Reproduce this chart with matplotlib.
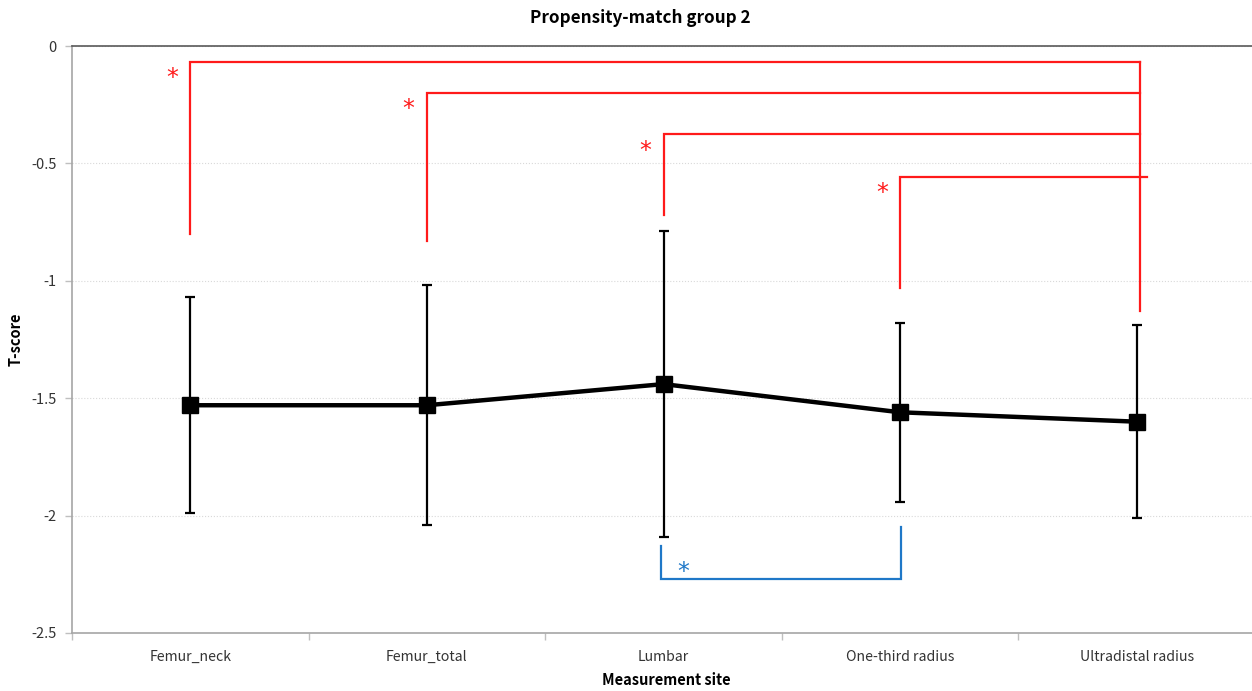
import matplotlib
matplotlib.use("Agg")
import matplotlib.pyplot as plt
import numpy as np

plt.rcParams['font.family'] = ['Noto Sans CJK KR', 'DejaVu Sans']

categories = ["Femur_neck", "Femur_total", "Lumbar", "One-third radius", "Ultradistal radius"]
means = [-1.53, -1.53, -1.44, -1.56, -1.60]
upper = [-1.07, -1.02, -0.79, -1.18, -1.19]
lower = [-1.99, -2.04, -2.09, -1.94, -2.01]

# significance brackets vs Ultradistal radius (index 4)
red_left_idx = [0, 1, 2, 3]
red_levels = [-0.068, -0.20, -0.375, -0.558]
red_left_bottoms = [-0.80, -0.83, -0.72, -1.03]
red_right_bottom = -1.13
# blue bracket Lumbar vs One-third radius
blue_pair = [2, 3]
blue_level = -2.27
blue_bottoms = [-2.13, -2.05]

RED = "#FF1A1A"
BLUE = "#1F78C8"

fig = plt.figure(figsize=(12.52, 6.91), dpi=100)
ax = fig.add_axes([72/1252, 1-633/691, 1183/1252, 587/691])

x = np.arange(len(categories))
m = np.array(means)
yerr = np.vstack([m - np.array(lower), np.array(upper) - m])

ax.errorbar(x, m, yerr=yerr, fmt='none', ecolor='black', elinewidth=1.6,
            capsize=3.5, capthick=1.6, zorder=3)
ax.plot(x, m, color='black', lw=3.2, marker='s', markersize=11, zorder=4)

# red brackets
right_x = x[4] + 0.013
for i, lvl, bot in zip(red_left_idx, red_levels, red_left_bottoms):
    xr = right_x + (0.03 if i == 3 else 0.0)
    ax.plot([x[i], x[i], xr], [bot, lvl, lvl], color=RED, lw=1.6, zorder=2,
            solid_joinstyle='miter')
    ax.text(x[i] - 0.077, lvl - 0.10, "*", color=RED, fontsize=17,
            family='DejaVu Sans', ha='center', va='baseline', zorder=5)
ax.plot([right_x, right_x], [red_levels[0], red_right_bottom], color=RED, lw=1.6, zorder=2)

# blue bracket
xa, xb = x[blue_pair[0]] - 0.01, x[blue_pair[1]] + 0.005
ax.plot([xa, xa, xb, xb], [blue_bottoms[0], blue_level, blue_level, blue_bottoms[1]],
        color=BLUE, lw=1.6, zorder=2, solid_joinstyle='miter')
ax.text(x[blue_pair[0]] + 0.083, blue_level + 0.0, "*", color=BLUE, fontsize=17,
        family='DejaVu Sans', ha='center', va='baseline', zorder=5)

ax.set_xlim(-0.5, 4.5)
ax.set_ylim(-2.5, 0)
ax.set_yticks([0, -0.5, -1, -1.5, -2, -2.5])
ax.set_yticklabels(["0", "-0.5", "-1", "-1.5", "-2", "-2.5"])
ax.set_xticks(x)
ax.set_xticklabels(categories)
ax.set_xticks(np.arange(-0.5, 4.6, 1), minor=True)
ax.tick_params(axis='x', which='major', length=0, pad=12, labelsize=10.2, colors='#333333')
ax.tick_params(axis='x', which='minor', length=5, color='#BFBFBF', width=1)
ax.tick_params(axis='y', length=5, color='#BFBFBF', width=1, labelsize=10.5,
               colors='#333333', pad=6)

ax.yaxis.grid(True, color='#D9D9D9', linestyle=':', lw=0.8)
ax.set_axisbelow(True)

for s in ['left', 'bottom']:
    ax.spines[s].set_color('#A6A6A6')
    ax.spines[s].set_linewidth(1.2)
ax.spines['top'].set_color('#595959')
ax.spines['top'].set_linewidth(1.2)
ax.spines['right'].set_visible(False)

fig.text(640/1252, 1-18/691, "Propensity-match group 2", fontsize=12.3,
         fontweight='bold', ha='center', va='center')
fig.text(666/1252, 1-680/691, "Measurement site", fontsize=10.5,
         fontweight='bold', ha='center', va='center')
fig.text(16/1252, 1-339/691, "T-score", fontsize=10.5, fontweight='bold',
         ha='center', va='center', rotation=90)

fig.savefig("out.png", dpi=100)
